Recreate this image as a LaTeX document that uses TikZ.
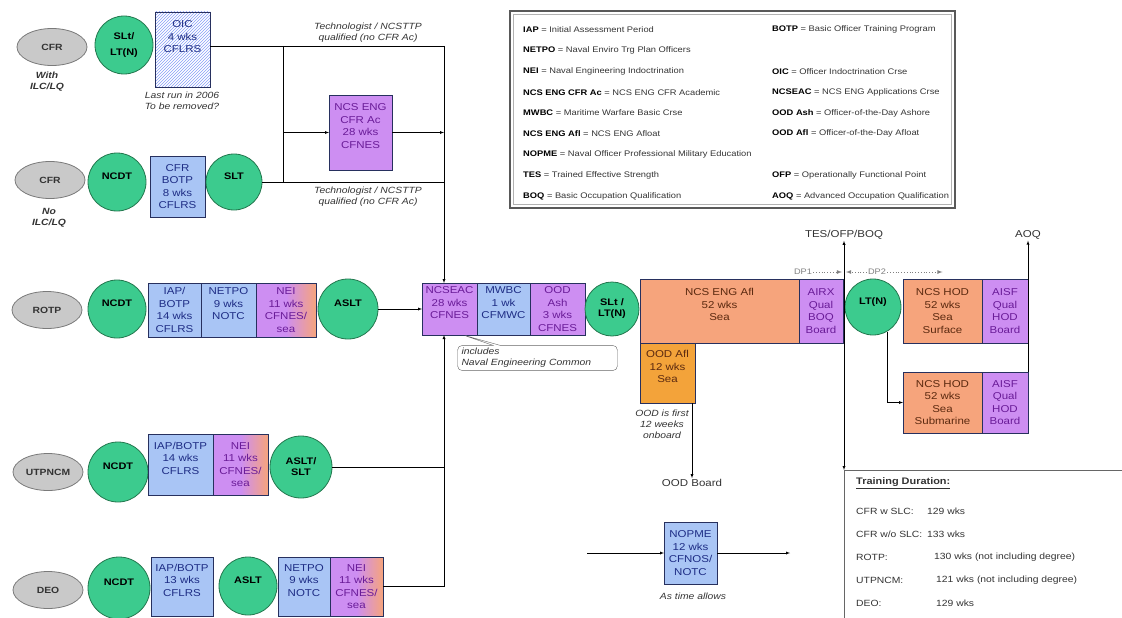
\documentclass[tikz,border=0pt]{standalone}
\usepackage{fontspec}
\setmainfont{Liberation Sans}[FakeStretch=1.15]
\usetikzlibrary{shapes.geometric,shapes.callouts,patterns,positioning,calc}

\definecolor{rankfill}{HTML}{3CCB8E}
\definecolor{rankline}{HTML}{23774E}
\definecolor{entryfill}{HTML}{C9C9C9}
\definecolor{entryline}{HTML}{7A7A7A}
\definecolor{courseblue}{HTML}{A9C5F5}
\definecolor{courseline}{HTML}{27305E}
\definecolor{coursetext}{HTML}{1E2D85}
\definecolor{engpurple}{HTML}{CD8EF2}
\definecolor{engtext}{HTML}{6A1C98}
\definecolor{seaorange}{HTML}{F6A47C}
\definecolor{seatext}{HTML}{5C2A10}
\definecolor{oodorange}{HTML}{F3A33A}
\definecolor{notegray}{HTML}{333333}

\tikzset{
	entry/.style={ellipse, draw=entryline, fill=entryfill, line width=0.8pt, minimum width=70pt, minimum height=37pt, inner sep=0pt, font=\fontsize{9}{10}\selectfont\bfseries, text=notegray},
	rank/.style={circle, draw=rankline, fill=rankfill, line width=0.8pt, minimum size=#1, inner sep=0pt, align=center, font=\fontsize{9.5}{11}\selectfont\bfseries},
	rank/.default=58pt,
	wh/.style 2 args={minimum width=#1pt, minimum height=#2pt},
	course/.style={rectangle, draw=courseline, fill=courseblue, text=coursetext, line width=0.7pt, outer sep=0pt, align=center, inner sep=1pt, font=\fontsize{10}{12.5}\selectfont},
	engcourse/.style={course, fill=engpurple, text=engtext},
	seacourse/.style={course, fill=seaorange, text=seatext},
	mixcourse/.style={course, left color=engpurple, right color=seaorange, middle color=engpurple, text=engtext},
	note/.style={align=center, font=\fontsize{9}{11}\selectfont\itshape, text=notegray, inner sep=0pt},
	entrynote/.style={note, font=\fontsize{9}{11}\selectfont\bfseries\itshape},
	tag/.style={font=\fontsize{10}{11}\selectfont, text=notegray, inner sep=1pt},
	legendtext/.style={anchor=west, inner sep=0pt, font=\fontsize{8.1}{9}\selectfont, text=notegray},
	trainrow/.style={anchor=west, inner sep=0pt, font=\fontsize{9}{10}\selectfont, text=notegray},
	dpline/.style={dotted, gray, thick},
}

\begin{document}
\begin{tikzpicture}[x=1pt,y=-1pt]
	\useasboundingbox (0,0) rectangle (1122,618);
	\coordinate (spine) at (444,0); % the feed line into NCSEAC

	% legend
	\draw[line width=2.2pt, gray!70!black] (510,11) rectangle (955,208);
	\draw[gray!60] (513.5,14.5) rectangle (951.5,204.5);
	\foreach \i/\ab/\txt in {1/IAP/Initial Assessment Period, 2/NETPO/Naval Enviro Trg Plan Officers, 3/NEI/Naval Engineering Indoctrination, 4/NCS ENG CFR Ac/NCS ENG CFR Academic, 5/MWBC/Maritime Warfare Basic Crse, 6/NCS ENG Afl/NCS ENG Afloat, 7/NOPME/Naval Officer Professional Military Education, 8/TES/Trained Effective Strength, 9/BOQ/Basic Occupation Qualification}
		\node[legendtext] (legL\i) at (523,9+20.8*\i) {\textcolor{black}{\textbf{\ab}} = \txt};
	\foreach \i/\ab/\txt in {1/BOTP/Basic Officer Training Program, 3/OIC/Officer Indoctrination Crse, 4/NCSEAC/NCS ENG Applications Crse, 5/OOD Ash/Officer-of-the-Day Ashore, 6/OOD Afl/Officer-of-the-Day Afloat, 8/OFP/Operationally Functional Point, 9/AOQ/Advanced Occupation Qualification}
		\node[legendtext] (legR\i) at (772,9+20.8*\i) {\textcolor{black}{\textbf{\ab}} = \txt};

	% CFR with ILC/LQ
	\node[entry] (cfrA) at (52,47) {CFR};
	\node[entrynote] (cfrAnote) at (47,82) {With\\ILC/LQ};
	\node[rank] (sltA) at (124,45) {SLt/\\[5pt]LT(N)};
	\node[course, wh={55}{75}, fill=none, pattern=north east lines, pattern color=courseblue!80!blue] (oic) at (182.5,49.5) {OIC\\4 wks\\CFLRS\\\mbox{}\\\mbox{}};
	\node[note] (oicnote) at (182,101) {Last run in 2006\\To be removed?};

	% CFR no ILC/LQ
	\node[entry] (cfrB) at (50,180) {CFR};
	\node[entrynote] (cfrBnote) at (49,218) {No\\ILC/LQ};
	\node[rank] (ncdtB) at (117,182) {NCDT\\\mbox{}};
	\node[course, wh={55}{61}] (botpB) at (177.5,186.5) {CFR\\BOTP\\8 wks\\CFLRS};
	\node[rank=56pt] (sltB) at (234,182) {SLT\\\mbox{}};

	% NCS ENG CFR Ac bypass
	\coordinate (topL) at (283,46);
	\coordinate (topR) at (444,46);
	\coordinate (midL) at (283,182);
	\node[engcourse, wh={63}{75}] (ncsac) at (360.5,132.5) {NCS ENG\\CFR Ac\\28 wks\\CFNES\\\mbox{}};
	\node[note] (techA) at (368,33) {Technologist / NCSTTP\\qualified (no CFR Ac)};
	\node[note] (techB) at (368,197) {Technologist / NCSTTP\\qualified (no CFR Ac)};

	% ROTP
	\node[entry] (rotp) at (47,310) {ROTP};
	\node[rank] (ncdtC) at (117,309) {NCDT\\\mbox{}};
	\node[course, wh={53}{54}] (iapC) at (174.5,310) {IAP/\\BOTP\\14 wks\\CFLRS};
	\node[course, wh={55}{54}, right=0pt of iapC] (netpoC) {NETPO\\9 wks\\NOTC\\\mbox{}};
	\node[mixcourse, wh={60}{54}, right=0pt of netpoC] (neiC) {NEI\\11 wks\\CFNES/\\sea};
	\node[rank=60pt] (asltC) at (348,309) {ASLT\\\mbox{}};

	% common trunk
	\node[engcourse, wh={55}{52}] (ncseac) at (449.5,309) {NCSEAC\\28 wks\\CFNES\\\mbox{}};
	\node[course, wh={53}{52}, right=0pt of ncseac] (mwbc) {MWBC\\1 wk\\CFMWC\\\mbox{}};
	\node[engcourse, wh={55}{52}, right=0pt of mwbc] (oodash) {OOD\\Ash\\3 wks\\CFNES};
	\node[rank=54pt] (sltltn) at (612,309) {SLt /\\LT(N)};
	\node[rectangle callout, draw=gray!80!black, rounded corners=5pt, fill=white, note, align=left, text width=152pt, inner xsep=4pt, inner ysep=3pt, callout absolute pointer={($(ncseac.south west)+(41,0)$)}] (incl) at (537.5,358) {includes\\Naval Engineering Common};

	% afloat
	\node[seacourse, wh={159}{64}] (ncsafl) at (719.5,311) {NCS ENG Afl\\52 wks\\Sea\\\mbox{}};
	\node[engcourse, wh={44}{64}, right=0pt of ncsafl] (airx) {AIRX\\Qual\\BOQ\\Board};
	\node[course, fill=oodorange, text=seatext, wh={55}{60}, anchor=north west] (oodafl) at (ncsafl.south west) {OOD Afl\\12 wks\\Sea\\\mbox{}};
	\node[note] (oodnote) at (662,424) {OOD is first\\12 weeks\\onboard};
	\node[tag] (oodboard) at (692,483) {OOD Board};
	\node[rank=56pt] (ltn) at (873,307) {LT(N)\\\mbox{}};
	\node[seacourse, wh={79}{64}] (hodsurf) at (942.5,311) {NCS HOD\\52 wks\\Sea\\Surface};
	\node[engcourse, wh={46}{64}, right=0pt of hodsurf] (aisfsurf) {AISF\\Qual\\HOD\\Board};
	\node[seacourse, wh={79}{61}] (hodsub) at (942.5,402.5) {NCS HOD\\52 wks\\Sea\\Submarine};
	\node[engcourse, wh={46}{61}, right=0pt of hodsub] (aisfsub) {AISF\\Qual\\HOD\\Board};
	\node[tag] (tes) at (844,235) {TES/OFP/BOQ};
	\node[tag] (aoq) at (1028,235) {AOQ};
	\node[tag, font=\fontsize{8}{9}\selectfont, text=gray] (dp1) at (803,272) {DP1};
	\node[tag, font=\fontsize{8}{9}\selectfont, text=gray] (dp2) at (877,272) {DP2};

	% NOPME
	\node[course, wh={53}{62}] (nopme) at (690.5,553) {NOPME\\12 wks\\CFNOS/\\NOTC};
	\node[note] (nopnote) at (693,596) {As time allows};
	\coordinate (nopIn) at (587,553);
	\coordinate (nopOut) at (790,553);

	% UTPNCM
	\node[entry] (utp) at (48,472) {UTPNCM};
	\node[rank=60pt] (ncdtD) at (118,472) {NCDT\\\mbox{}};
	\node[course, wh={65}{61}] (iapD) at (180.5,464.5) {IAP/BOTP\\14 wks\\CFLRS\\\mbox{}};
	\node[mixcourse, wh={55}{61}, right=0pt of iapD] (neiD) {NEI\\11 wks\\CFNES/\\sea};
	\node[rank=62pt] (asltD) at (301,467) {ASLT/\\SLT};

	% DEO
	\node[entry] (deo) at (48,590) {DEO};
	\node[rank=62pt] (ncdtE) at (119,588) {NCDT\\\mbox{}};
	\node[course, wh={62}{59}] (iapE) at (182,586.5) {IAP/BOTP\\13 wks\\CFLRS\\\mbox{}};
	\node[rank=58pt] (asltE) at (248,586) {ASLT\\\mbox{}};
	\node[course, wh={52}{59}] (netpoE) at (304,586.5) {NETPO\\9 wks\\NOTC\\\mbox{}};
	\node[mixcourse, wh={53}{59}, right=0pt of netpoE] (neiE) {NEI\\11 wks\\CFNES/\\sea};

	% training duration
	\node[anchor=north west, draw=gray!80!black, minimum width=300pt, minimum height=170pt] (trainbox) at (844,470) {};
	\node[trainrow, font=\fontsize{9.5}{10}\selectfont\bfseries] (trainttl) at (856,483) {\underline{Training Duration:}};
	\foreach \i/\lab/\val/\vx in {1/{CFR w SLC:}/129 wks/927, 2/{CFR w/o SLC:}/133 wks/927, 3/ROTP:/130 wks (not including degree)/934, 4/UTPNCM:/121 wks (not including degree)/936, 5/DEO:/129 wks/936}
	{
		\node[trainrow] (tlab\i) at (856,488+23*\i) {\lab};
		\node[trainrow] (tval\i) at (\vx,488+23*\i) {\val};
	}

	% connectors
	\draw (oic.east |- topR) -- (topR);
	\draw (topL) -- (midL);
	\draw[-latex] (topL |- ncsac.west) -- (ncsac.west);
	\draw[-latex] (ncsac.east) -- (spine |- ncsac.east);
	\draw (sltB.east) -- (spine |- sltB.east);
	\draw[-latex] (topR) -- (spine |- ncseac.north);
	\draw[-latex] (asltC.east) -- (asltC.east -| ncseac.west);
	\draw (asltD.east) -- (spine |- asltD.east);
	\draw[-latex] (neiE.east) -| (spine |- ncseac.south);
	\draw[-latex] (oodboard.north |- oodafl.south) -- (oodboard.north);
	\draw[latex-latex] (tes.south) -- (trainbox.north west);
	\draw[-latex] (aisfsub.north east) -- (aoq.south);
	\draw[-latex] (ltn.-60) |- (hodsub.west);
	\draw[dpline,-latex] (dp1.east) -- ($(tes.south |- dp1.east)+(-2,0)$);
	\draw[dpline,-latex] (dp2.west) -- ($(tes.south |- dp2.west)+(2,0)$);
	\draw[dpline,-latex] (dp2.east) -- (hodsurf.north |- dp2.east);
	\draw[-latex] (nopIn) -- (nopme.west);
	\draw[-latex] (nopme.east) -- (nopOut);
\end{tikzpicture}
\end{document}
